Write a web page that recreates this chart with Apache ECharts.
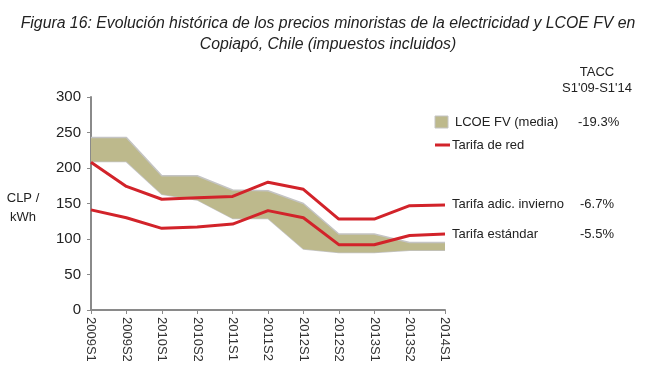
<!DOCTYPE html>
<html>
<head>
<meta charset="utf-8">
<script src="https://cdn.jsdelivr.net/npm/echarts@6/dist/echarts.min.js"></script>
<style>
html,body{margin:0;padding:0;background:#fff;}
#c{width:656px;height:376px;}
</style>
</head>
<body>
<div id="c"></div>
<script>
var categories = ['2009S1','2009S2','2010S1','2010S2','2011S1','2011S2','2012S1','2012S2','2013S1','2013S2','2014S1'];
var lcoeLow  = [209,209,163,155,129,129,86,81,81,84,84];
var lcoeHigh = [243,243,189,189,169,168,150,107,107,95,95];
var tarifaInvierno = [208,174,156,158,160,180,170,128,128,147,148];
var tarifaEstandar = [141,130,115,117,121,140,130,92,92,105,107];
var yTicks = [0,50,100,150,200,250,300];
var taccLcoe = '-19.3%';
var taccInvierno = '-6.7%';
var taccEstandar = '-5.5%';

var FONT = 'Liberation Sans';
var RED = '#D2232A';
var KHAKI = '#BDB98C';
var AXIS = '#8a8a8a';

var bandDiff = lcoeHigh.map(function(v,i){ return v - lcoeLow[i]; });

var chart = echarts.init(document.getElementById('c'));
chart.setOption({
  animation: false,
  textStyle: {fontFamily: FONT},
  title: {
    text: 'Figura 16: Evolución histórica de los precios minoristas de la electricidad y LCOE FV en\nCopiapó, Chile (impuestos incluidos)',
    left: 'center', top: 8,
    textStyle: {fontFamily: FONT, fontStyle: 'italic', fontWeight: 'normal', fontSize: 15.8, color: '#222', lineHeight: 21, align: 'center'}
  },
  grid: {left: 91, right: 211, top: 97, bottom: 66},
  xAxis: {
    type: 'category', data: categories, boundaryGap: false,
    axisLine: {lineStyle: {color: AXIS, width: 2}},
    axisTick: {show: true, length: 4, lineStyle: {color: AXIS}, alignWithLabel: true},
    axisLabel: {rotate: -90, margin: 7, color: '#333', fontSize: 13, fontFamily: FONT, interval: 0},
    splitLine: {show: false}
  },
  yAxis: {
    type: 'value', min: yTicks[0], max: yTicks[yTicks.length-1], interval: 50,
    axisLine: {show: true, lineStyle: {color: AXIS, width: 2}},
    axisTick: {show: true, length: 4, lineStyle: {color: AXIS}},
    axisLabel: {margin: 10, color: '#222', fontSize: 15, fontFamily: FONT},
    splitLine: {show: false}
  },
  series: [
    {
      name: 'lcoeLow', type: 'line', data: lcoeLow, stack: 'band', symbol: 'none',
      lineStyle: {color: '#c4c4c4', width: 1.5}, z: 1, silent: true
    },
    {
      name: 'LCOE FV (media)', type: 'line', data: bandDiff, stack: 'band', symbol: 'none',
      lineStyle: {color: '#c4c4c4', width: 1.5},
      areaStyle: {color: KHAKI, opacity: 1}, z: 2, silent: true
    },
    {
      name: 'Tarifa adic. invierno', type: 'line', data: tarifaInvierno, symbol: 'none',
      lineStyle: {color: RED, width: 3}, z: 3,
      endLabel: {
        show: true, distance: 7,
        formatter: '{n|Tarifa adic. invierno}{p|' + taccInvierno + '}',
        rich: {n: {width: 128, fontSize: 13, color: '#222', fontFamily: FONT}, p: {fontSize: 13, color: '#222', fontFamily: FONT}}
      }
    },
    {
      name: 'Tarifa estándar', type: 'line', data: tarifaEstandar, symbol: 'none',
      lineStyle: {color: RED, width: 3}, z: 3,
      endLabel: {
        show: true, distance: 7,
        formatter: '{n|Tarifa estándar}{p|' + taccEstandar + '}',
        rich: {n: {width: 128, fontSize: 13, color: '#222', fontFamily: FONT}, p: {fontSize: 13, color: '#222', fontFamily: FONT}}
      }
    }
  ],
  graphic: [
    {type: 'text', x: 23, y: 208, style: {text: 'CLP /\nkWh', fontFamily: FONT, fontSize: 13, fill: '#222', align: 'center', verticalAlign: 'middle', lineHeight: 19}},
    {type: 'text', x: 597, y: 80, style: {text: 'TACC\nS1\'09-S1\'14', fontFamily: FONT, fontSize: 13, fill: '#222', align: 'center', verticalAlign: 'middle', lineHeight: 16}},
    {type: 'rect', shape: {x: 435, y: 116, width: 13, height: 12}, style: {fill: KHAKI, stroke: '#c4c4c4', lineWidth: 1}},
    {type: 'text', x: 455, y: 122, style: {text: 'LCOE FV (media)', fontFamily: FONT, fontSize: 13, fill: '#222', verticalAlign: 'middle'}},
    {type: 'text', x: 578, y: 122, style: {text: taccLcoe, fontFamily: FONT, fontSize: 13, fill: '#222', verticalAlign: 'middle'}},
    {type: 'line', shape: {x1: 435, y1: 145, x2: 450, y2: 145}, style: {stroke: RED, lineWidth: 3}},
    {type: 'text', x: 452, y: 145, style: {text: 'Tarifa de red', fontFamily: FONT, fontSize: 13, fill: '#222', verticalAlign: 'middle'}}
  ]
});
</script>
</body>
</html>
